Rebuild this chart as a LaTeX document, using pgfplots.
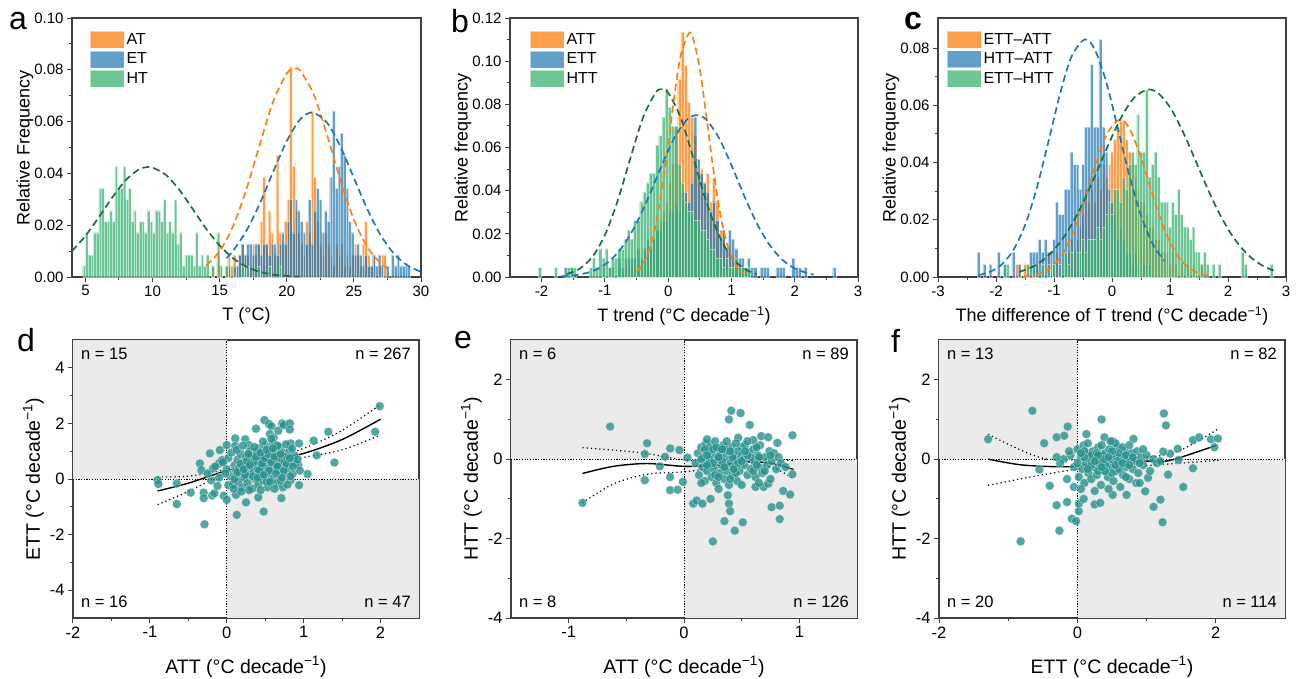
\documentclass[border=0pt]{standalone}
\usepackage{fontspec}
\setmainfont{Liberation Sans}
\usepackage{pgfplots}
\pgfplotsset{compat=1.18}
\definecolor{cOr}{RGB}{255,127,14}
\definecolor{cBl}{RGB}{31,119,180}
\definecolor{cGr}{RGB}{60,179,113}
\definecolor{cDG}{RGB}{28,110,58}
\definecolor{cTeal}{RGB}{40,145,140}
\definecolor{cQuad}{RGB}{235,235,235}
\newcommand{\lf}{\fontsize{16}{16}\selectfont}
\newcommand{\nf}{\fontsize{16.5}{16.5}\selectfont}
\pgfplotsset{
  base/.style={scale only axis, anchor=south west, tick align=outside, xtick pos=left, ytick pos=left,
    minor tick num=1, axis line style={draw=black!75, line width=1.1pt},
    tick style={draw=black!75, line width=1pt}, major tick length=5pt, minor tick length=3pt,
    tick label style={font=\fontsize{15}{15}\selectfont}, label style={font=\fontsize{18}{18}\selectfont},
    /pgf/number format/assume math mode=true},
  hist/.style={base, ymin=0, scaled y ticks=false, yticklabel style={/pgf/number format/fixed, /pgf/number format/fixed zerofill, /pgf/number format/precision=2},
    xlabel style={yshift=-4pt}, ylabel style={yshift=-6pt},
    legend style={draw=none, fill=none, font=\lf, anchor=north west,
      inner sep=0pt, row sep=2pt, nodes={inner sep=2pt, font=\lf}},
    legend cell align=left,
    legend image code/.code={\fill[##1] (0pt,-8.5pt) rectangle (34pt,8.5pt);}},
  hb/.style={ybar, bar shift=0pt, bar width=#1, draw=white, draw opacity=0.5, line width=0.3pt, fill opacity=0.75},
  gc/.style={#1, line width=1.7pt, dash pattern=on 7pt off 4pt, smooth, forget plot},
  sc/.style={base, width=346pt, height=278pt, tick label style={font=\fontsize{16.5}{16.5}\selectfont},
    label style={font=\fontsize{19.5}{19.5}\selectfont}, xlabel style={yshift=-11pt}, ylabel style={yshift=-1pt}},
  pts/.style={only marks, mark=*, mark size=4.5pt, mark options={fill=cTeal, fill opacity=0.8, draw=white, draw opacity=0.6, line width=0.4pt}},
  fitl/.style={black, line width=1.4pt, smooth},
  band/.style={black, line width=1.2pt, dash pattern=on 1.2pt off 3pt, smooth},
}
\newcommand{\nlab}[4]{%
  \node[anchor=north west, inner sep=0pt] at ([xshift=8pt,yshift=-8pt]rel axis cs:0,1) {\nf #1};
  \node[anchor=north east, inner sep=0pt] at ([xshift=-8pt,yshift=-8pt]rel axis cs:1,1) {\nf #2};
  \node[anchor=south west, inner sep=0pt] at ([xshift=8pt,yshift=10pt]rel axis cs:0,0) {\nf #3};
  \node[anchor=south east, inner sep=0pt] at ([xshift=-8pt,yshift=10pt]rel axis cs:1,0) {\nf #4};}
\begin{document}
\begin{tikzpicture}
\path[use as bounding box] (0pt,0pt) rectangle (1296pt,-678pt);
% ---------------- a
\begin{axis}[hist, at={(72pt,-277pt)}, width=349pt, height=259pt, xmin=4, xmax=30, ymax=0.1,
  xtick={5,10,15,20,25,30}, ytick={0,0.02,0.04,0.06,0.08,0.1},
  xlabel={T (°C)}, ylabel={Relative Frequency},
  legend style={at={(rel axis cs:0,1)}, xshift=18pt, yshift=-13pt}]
\addplot[hb=0.2, fill=cOr] coordinates {(14.5,.0043)(14.9,.0085)(15.1,.0043)(15.5,.0043)(15.7,.0085)(15.9,.0043)(16.1,.0085)(16.3,.0043)(16.5,.0085)(16.7,.0128)(16.9,.0085)(17.1,.0085)(17.3,.0043)(17.5,.0128)(17.7,.0085)(17.9,.0128)(18.1,.0214)(18.3,.0385)(18.5,.0128)(18.7,.0256)(18.9,.0171)(19.1,.0085)(19.3,.047)(19.5,.0171)(19.7,.0128)(19.9,.0214)(20.1,.0299)(20.3,.0812)(20.5,.0427)(20.7,.0256)(20.9,.0171)(21.1,.0128)(21.3,.0085)(21.5,.0214)(21.7,.0171)(21.9,.0641)(22.1,.0385)(22.3,.0214)(22.5,.0128)(22.7,.0085)(22.9,.0171)(23.1,.0128)(23.3,.0085)(23.5,.0043)(23.7,.0128)(23.9,.0085)(24.1,.0128)(24.3,.0043)(24.5,.0085)(24.7,.0043)(24.9,.0085)(25.1,.0128)(25.3,.0085)(25.5,.0043)(25.7,.0128)(25.9,.0214)(26.1,.0085)(26.3,.0043)(26.5,.0085)(26.9,.0043)(27.1,.0085)(27.3,.0085)};
\addlegendentry{\lf AT}
\addplot[hb=0.2, fill=cBl, fill opacity=0.7] coordinates {(15.7,.0043)(16.1,.0043)(16.3,.0043)(16.5,.0085)(16.7,.0128)(16.9,.0085)(17.1,.0128)(17.3,.0128)(17.5,.0085)(17.7,.0128)(17.9,.0128)(18.1,.0085)(18.3,.0128)(18.5,.0128)(18.7,.0085)(18.9,.0128)(19.1,.0128)(19.3,.0085)(19.5,.0128)(19.7,.0171)(19.9,.0128)(20.1,.0214)(20.3,.0299)(20.5,.0171)(20.7,.0299)(20.9,.0256)(21.1,.0214)(21.3,.0171)(21.5,.0128)(21.7,.0299)(21.9,.0128)(22.1,.0256)(22.3,.0342)(22.5,.0299)(22.7,.0171)(22.9,.0256)(23.1,.0214)(23.3,.0385)(23.5,.0641)(23.7,.0342)(23.9,.0427)(24.1,.0556)(24.3,.047)(24.5,.0342)(24.7,.0214)(24.9,.0171)(25.1,.0085)(25.3,.0128)(25.5,.0085)(25.7,.0043)(25.9,.0085)(26.1,.0043)(26.3,.0043)(26.5,.0085)(26.7,.0043)(26.9,.0085)(27.1,.0043)(27.5,.0043)(27.9,.0085)(28.1,.0043)(28.3,.0085)(28.5,.0043)(28.7,.0043)(28.9,.0043)(29.1,.0043)};
\addlegendentry{\lf ET}
\addplot[hb=0.2, fill=cGr] coordinates {(4.9,.0043)(5.1,.0171)(5.3,.0085)(5.5,.0085)(5.7,.0171)(5.9,.0171)(6.1,.0342)(6.3,.0342)(6.5,.0214)(6.7,.0214)(6.9,.0256)(7.1,.0214)(7.3,.0427)(7.5,.0342)(7.7,.0342)(7.9,.0427)(8.1,.0299)(8.3,.0342)(8.5,.0214)(8.7,.0256)(8.9,.0171)(9.1,.0214)(9.3,.0214)(9.5,.0171)(9.7,.0256)(9.9,.0214)(10.1,.0171)(10.3,.0256)(10.5,.0256)(10.7,.0214)(10.9,.0299)(11.1,.0171)(11.3,.0214)(11.5,.0171)(11.7,.0299)(11.9,.0128)(12.1,.0171)(12.3,.0043)(12.5,.0085)(12.7,.0085)(12.9,.0085)(13.1,.0043)(13.3,.0171)(13.5,.0043)(13.7,.0085)(13.9,.0043)(14.1,.0085)(14.5,.0043)(14.9,.0171)(15.1,.0043)(15.5,.0043)(16.1,.0043)(16.7,.0043)(17.1,.0043)(17.9,.0043)(18.7,.0043)(19.5,.0043)};
\addlegendentry{\lf HT}
\addplot[gc=cDG] coordinates {(4,.0100)(5,.0159)(6,.0231)(7,.0307)(8,.0374)(9,.0416)(9.7,.0425)(10,.0423)(11,.0394)(12,.0336)(13,.0262)(14,.0186)(15,.0122)(16,.00725)(17,.00396)(18,.00198)(19,.0009)(20,.00038)(21,.00014)};
\addplot[gc=cOr] coordinates {(14,.00443)(15,.00997)(16,.01967)(17,.03396)(18,.05133)(19,.06788)(20,.0786)(20.6,.0805)(21,.07965)(22,.07065)(23,.05485)(24,.03728)(25,.02217)(26,.01155)(27,.00526)(27.5,.0034)};
\addplot[gc=cBl] coordinates {(15.5,.0073)(16,.01013)(17,.01791)(18,.02848)(19,.04076)(20,.0525)(21,.06085)(21.9,.0635)(23,.05958)(24,.05033)(25,.03827)(26,.02618)(27,.01612)(28,.00893)(29,.00445)(30,.002)};
\end{axis}
% ---------------- b
\begin{axis}[hist, at={(510pt,-277pt)}, width=348pt, height=259pt, xmin=-2.5, xmax=3, ymax=0.12,
  xtick={-2,-1,0,1,2,3}, ytick={0,0.02,0.04,0.06,0.08,0.1,0.12},
  xlabel={T trend (°C decade\textsuperscript{−1})}, ylabel={Relative frequency},
  legend style={at={(rel axis cs:0,1)}, xshift=20pt, yshift=-13pt}]
\addplot[hb=0.05, fill=cOr] coordinates {(-0.925,.0044)(-0.775,.0044)(-0.675,.0044)(-0.625,.0044)(-0.575,.0044)(-0.525,.0087)(-0.475,.0044)(-0.425,.0087)(-0.375,.0131)(-0.325,.0087)(-0.275,.0131)(-0.225,.0175)(-0.175,.0218)(-0.125,.0262)(-0.075,.0306)(-0.025,.0349)(0.025,.0437)(0.075,.0524)(0.125,.0699)(0.175,.0917)(0.225,.1135)(0.275,.0983)(0.325,.0808)(0.375,.0742)(0.425,.0655)(0.475,.048)(0.525,.0502)(0.575,.0437)(0.625,.048)(0.675,.0349)(0.725,.0459)(0.775,.0349)(0.825,.0218)(0.875,.0218)(0.925,.0131)(0.975,.0131)(1.025,.0087)(1.075,.0044)(1.125,.0044)(1.175,.0044)(1.225,.0044)};
\addlegendentry{\lf ATT}
\addplot[hb=0.05, fill=cBl, fill opacity=0.7] coordinates {(-1.625,.0044)(-1.525,.0044)(-1.025,.0044)(-0.925,.0044)(-0.875,.0044)(-0.775,.0087)(-0.725,.0044)(-0.675,.0087)(-0.625,.0087)(-0.575,.0087)(-0.525,.0087)(-0.475,.0131)(-0.425,.0087)(-0.375,.0131)(-0.325,.0175)(-0.275,.0131)(-0.225,.0175)(-0.175,.0218)(-0.125,.0218)(-0.075,.0262)(-0.025,.0262)(0.025,.0306)(0.075,.0306)(0.125,.0349)(0.175,.0306)(0.225,.0393)(0.275,.0393)(0.325,.0349)(0.375,.0437)(0.425,.0742)(0.475,.0546)(0.525,.048)(0.575,.0437)(0.625,.0393)(0.675,.0306)(0.725,.0349)(0.775,.0262)(0.825,.0175)(0.875,.0218)(0.925,.0131)(0.975,.0218)(1.025,.0175)(1.075,.0131)(1.125,.0087)(1.175,.0087)(1.225,.0044)(1.275,.0087)(1.325,.0044)(1.375,.0044)(1.475,.0044)(1.525,.0044)(1.575,.0044)(1.725,.0044)(1.775,.0044)(1.825,.0044)(1.975,.0087)(2.025,.0044)(2.075,.0044)(2.175,.0044)(2.625,.0044)};
\addlegendentry{\lf ETT}
\addplot[hb=0.05, fill=cGr] coordinates {(-2.025,.0044)(-1.775,.0044)(-1.575,.0044)(-1.525,.0044)(-1.475,.0044)(-1.225,.0044)(-1.175,.0087)(-1.125,.0044)(-1.075,.0131)(-1.025,.0087)(-0.975,.0131)(-0.925,.0044)(-0.875,.0087)(-0.825,.0087)(-0.775,.0131)(-0.725,.0131)(-0.675,.0175)(-0.625,.0218)(-0.575,.0175)(-0.525,.0262)(-0.475,.0262)(-0.425,.0349)(-0.375,.0393)(-0.325,.0437)(-0.275,.048)(-0.225,.048)(-0.175,.0611)(-0.125,.0655)(-0.075,.0742)(-0.025,.0873)(0.025,.0786)(0.075,.0699)(0.125,.0699)(0.175,.0524)(0.225,.0437)(0.275,.0349)(0.325,.0306)(0.375,.0306)(0.425,.0262)(0.475,.0262)(0.525,.0218)(0.575,.0218)(0.625,.0175)(0.675,.0131)(0.725,.0131)(0.775,.0087)(0.825,.0087)(0.875,.0044)(0.925,.0087)(0.975,.0044)(1.025,.0044)(1.075,.0087)(1.125,.0044)(1.175,.0044)(1.225,.0044)(1.275,.0044)};
\addlegendentry{\lf HTT}
\addplot[gc=cDG] coordinates {(-1.6,.00136)(-1.4,.00382)(-1.2,.00929)(-1.0,.01945)(-0.8,.03516)(-0.6,.05479)(-0.4,.07366)(-0.2,.08541)(-0.1,.087)(0.0,.08541)(0.2,.07366)(0.4,.05479)(0.6,.03516)(0.8,.01945)(1.0,.00929)(1.2,.00382)(1.4,.00136)};
\addplot[gc=cOr] coordinates {(-0.5,.00246)(-0.4,.00585)(-0.3,.01246)(-0.2,.02373)(-0.1,.04045)(0.0,.06171)(0.1,.08423)(0.2,.10288)(0.33,.113)(0.4,.10997)(0.5,.09624)(0.6,.07537)(0.7,.05282)(0.8,.03312)(0.9,.01859)(1.0,.00933)(1.1,.00419)(1.2,.00169)};
\addplot[gc=cBl] coordinates {(-1.7,.00027)(-1.5,.00072)(-1.3,.00179)(-1.1,.00399)(-0.9,.00811)(-0.7,.01493)(-0.5,.02492)(-0.3,.03775)(-0.1,.05184)(0.1,.06458)(0.3,.07297)(0.45,.075)(0.6,.07297)(0.8,.06458)(1.0,.05184)(1.2,.03775)(1.4,.02492)(1.6,.01493)(1.8,.00811)(2.0,.00399)(2.2,.00179)(2.3,.00115)};
\end{axis}
% ---------------- c
\begin{axis}[hist, at={(938pt,-277pt)}, width=348pt, height=259pt, xmin=-3, xmax=3, ymax=0.0905,
  xtick={-3,-2,-1,0,1,2,3}, ytick={0,0.02,0.04,0.06,0.08},
  xlabel={The difference of T trend (°C decade\textsuperscript{−1})}, ylabel={Relative frequency},
  legend style={at={(rel axis cs:0,1)}, xshift=9pt, yshift=-13pt}]
\addplot[hb=0.05, fill=cOr] coordinates {(-1.65,.0044)(-1.60,.0044)(-1.50,.0044)(-1.45,.0044)(-1.30,.0044)(-1.10,.0087)(-1.00,.0044)(-0.95,.0087)(-0.90,.0044)(-0.80,.0087)(-0.75,.0087)(-0.70,.0131)(-0.65,.0087)(-0.60,.0131)(-0.55,.0175)(-0.50,.0218)(-0.45,.0306)(-0.40,.0262)(-0.35,.0306)(-0.30,.0262)(-0.25,.0349)(-0.20,.0306)(-0.15,.0393)(-0.10,.0349)(-0.05,.0393)(0.00,.0437)(0.05,.048)(0.10,.0524)(0.15,.0546)(0.20,.0546)(0.25,.048)(0.30,.0437)(0.35,.0393)(0.40,.0349)(0.45,.0306)(0.50,.0262)(0.55,.0262)(0.60,.0218)(0.65,.0175)(0.70,.0175)(0.75,.0131)(0.80,.0131)(0.85,.0087)(0.90,.0087)(0.95,.0087)(1.00,.0044)(1.05,.0087)(1.10,.0044)(1.20,.0044)(1.30,.0044)(1.40,.0044)(1.55,.0044)};
\addlegendentry{\lf ETT–ATT}
\addplot[hb=0.05, fill=cBl, fill opacity=0.7] coordinates {(-2.30,.0087)(-2.20,.0044)(-2.10,.0044)(-1.95,.0087)(-1.85,.0044)(-1.70,.0087)(-1.60,.0044)(-1.40,.0087)(-1.35,.0087)(-1.30,.0087)(-1.25,.0131)(-1.20,.0087)(-1.15,.0131)(-1.10,.0087)(-1.05,.0087)(-1.00,.0131)(-0.95,.0262)(-0.90,.0218)(-0.85,.0218)(-0.80,.0306)(-0.75,.0306)(-0.70,.0437)(-0.65,.0393)(-0.60,.0393)(-0.55,.0306)(-0.50,.0393)(-0.45,.0524)(-0.40,.0524)(-0.35,.0742)(-0.30,.0524)(-0.25,.0524)(-0.20,.083)(-0.15,.0524)(-0.10,.0437)(-0.05,.0306)(0.00,.0262)(0.05,.0218)(0.10,.0131)(0.15,.0175)(0.20,.0131)(0.25,.0087)(0.30,.0087)(0.35,.0044)(0.40,.0087)(0.45,.0044)(0.55,.0044)(0.65,.0044)};
\addlegendentry{\lf HTT–ATT}
\addplot[hb=0.05, fill=cGr] coordinates {(-1.85,.0044)(-1.80,.0044)(-1.45,.0044)(-1.35,.0044)(-1.20,.0044)(-1.10,.0044)(-1.00,.0044)(-0.90,.0044)(-0.80,.0087)(-0.75,.0044)(-0.70,.0087)(-0.60,.0087)(-0.55,.0087)(-0.50,.0131)(-0.45,.0087)(-0.40,.0131)(-0.35,.0131)(-0.30,.0131)(-0.25,.0175)(-0.20,.0131)(-0.15,.0175)(-0.10,.0218)(-0.05,.0262)(0.00,.0218)(0.05,.0306)(0.10,.0306)(0.15,.0262)(0.20,.0349)(0.25,.0306)(0.30,.0393)(0.35,.0437)(0.40,.0393)(0.45,.0568)(0.50,.0437)(0.55,.0437)(0.60,.0655)(0.65,.0349)(0.70,.0393)(0.75,.0437)(0.80,.0349)(0.85,.0262)(0.90,.0262)(0.95,.0262)(1.00,.0175)(1.05,.0262)(1.10,.0218)(1.15,.0306)(1.20,.0218)(1.25,.0175)(1.30,.0175)(1.35,.0131)(1.40,.0175)(1.45,.0087)(1.50,.0087)(1.55,.0044)(1.60,.0087)(1.65,.0044)(1.75,.0044)(1.85,.0044)(2.25,.0087)(2.30,.0044)(2.75,.0044)};
\addlegendentry{\lf ETT–HTT}
\addplot[gc=cBl] coordinates {(-2.3,.00068)(-2.1,.00183)(-1.9,.0044)(-1.7,.00945)(-1.5,.01808)(-1.3,.03086)(-1.1,.04694)(-0.9,.06364)(-0.7,.07693)(-0.47,.083)(-0.3,.07962)(-0.1,.06818)(0.1,.05205)(0.3,.03541)(0.5,.02149)(0.7,.01162)(0.9,.0056)};
\addplot[gc=cOr] coordinates {(-1.5,.00027)(-1.3,.00092)(-1.1,.00267)(-0.9,.00659)(-0.7,.01387)(-0.5,.02487)(-0.3,.038)(-0.1,.04948)(0.13,.055)(0.3,.05191)(0.5,.04183)(0.7,.02871)(0.9,.0168)(1.1,.00838)(1.3,.00356)(1.5,.00129)(1.7,.0004)};
\addplot[gc=cDG] coordinates {(-1.6,.00177)(-1.4,.00329)(-1.2,.00576)(-1.0,.00952)(-0.8,.01485)(-0.6,.02184)(-0.4,.03033)(-0.2,.03973)(0.0,.0491)(0.2,.05727)(0.4,.06303)(0.63,.0655)(0.8,.06414)(1.0,.0593)(1.2,.05174)(1.4,.0426)(1.6,.03309)(1.8,.02425)(2.0,.01677)(2.2,.01095)(2.4,.00674)(2.6,.00392)(2.8,.00215)};
\end{axis}
% ---------------- d
\begin{axis}[sc, at={(73pt,-618pt)}, xmin=-2, xmax=2.5, ymin=-5, ymax=5,
  xtick={-2,-1,0,1,2}, ytick={-4,-2,0,2,4},
  xlabel={ATT (°C decade\textsuperscript{−1})}, ylabel={ETT (°C decade\textsuperscript{−1})}]
\fill[cQuad] (axis cs:-2,0) rectangle (axis cs:0,5);
\fill[cQuad] (axis cs:0,-5) rectangle (axis cs:2.5,0);
\draw[black, line width=0.7pt, dash pattern=on 1.2pt off 1.5pt] (axis cs:0,-5) -- (axis cs:0,5);
\draw[black, line width=0.7pt, dash pattern=on 1.2pt off 1.5pt] (axis cs:-2,0) -- (axis cs:2.5,0);
\addplot[pts] coordinates {(-0.9,-0.04)(-0.89,-0.18)(-0.65,-0.9)(-0.65,-0.16)(-0.47,-0.49)(-0.35,0.56)(-0.33,0.32)(-0.30,-0.49)(-0.30,-0.69)(-0.29,-1.63)(-0.22,0.92)(-0.19,-0.59)(-0.18,0.38)(-0.16,-0.51)(-0.10,0.56)(-0.09,1.04)(-0.06,0.68)(-0.04,-0.6)(0.0,1.22)(0.0,-0.75)(0.02,-0.22)(0.11,1.46)(0.11,1.19)(0.12,-0.57)(0.13,-1.29)(0.24,1.43)(0.25,-0.84)(0.29,1.22)(0.38,1.81)(0.41,-0.66)(0.49,2.12)(0.48,-1.17)(0.55,1.98)(0.58,1.9)(0.56,1.62)(0.61,1.49)(0.67,1.74)(0.72,2.0)(0.74,1.94)(0.82,2.0)(0.82,1.78)(0.83,1.28)(0.71,-0.69)(0.83,-0.04)(0.94,1.28)(0.93,0.5)(0.94,-0.22)(1.05,0.18)(1.13,1.38)(1.17,0.85)(1.32,1.7)(1.40,0.59)(1.93,1.7)(1.99,2.62)
(0.05,0.1)(0.08,-0.2)(0.1,0.5)(0.12,0.3)(0.14,0.7)(0.15,-0.1)(0.17,0.2)(0.18,0.9)(0.2,0.4)(0.2,-0.3)(0.22,0.6)(0.23,0.05)(0.25,0.8)(0.26,0.3)(0.27,-0.15)(0.28,0.55)(0.3,1.0)(0.3,0.15)(0.32,0.45)(0.33,-0.35)(0.34,0.7)(0.35,0.25)(0.36,0.95)(0.37,0.0)(0.38,0.5)(0.4,0.35)(0.4,0.75)(0.41,-0.2)(0.42,1.1)(0.43,0.6)(0.44,0.2)(0.45,0.45)(0.46,0.85)(0.47,-0.05)(0.48,0.65)(0.49,0.3)(0.5,1.2)(0.5,0.55)(0.51,0.1)(0.52,0.8)(0.53,-0.3)(0.54,0.4)(0.55,1.0)(0.56,0.65)(0.57,0.2)(0.58,0.9)(0.59,0.45)(0.6,1.3)(0.6,0.0)(0.61,0.7)(0.62,0.35)(0.63,1.05)(0.64,0.55)(0.65,-0.15)(0.66,0.85)(0.67,0.3)(0.68,0.6)(0.69,1.15)(0.7,0.15)(0.71,0.75)(0.72,0.45)(0.73,-0.3)(0.74,0.95)(0.75,0.6)(0.76,0.25)(0.78,0.8)(0.8,0.4)(0.82,1.05)(0.84,0.6)(0.86,0.2)(0.88,0.85)(0.9,0.55)(0.0,0.35)(0.02,0.75)(-0.02,0.2)(-0.05,0.6)(0.06,0.95)(0.09,-0.35)(0.13,1.05)(0.16,0.4)(0.19,-0.45)(0.21,1.2)(0.24,0.15)(0.29,-0.4)(0.31,0.85)(0.39,1.0)(0.44,-0.4)(0.47,1.35)(0.52,-0.1)(0.58,1.45)(0.62,-0.35)(0.66,1.2)(0.7,-0.05)(0.77,1.25)(0.79,-0.2)(0.83,0.1)(0.85,1.1)(0.92,0.7)(0.95,0.3)(-0.1,0.05)(-0.15,0.45)(-0.2,-0.05)(-0.25,0.2)(-0.12,-0.25)(0.35,0.6)(0.45,0.7)(0.55,0.3)(0.25,0.5)(0.65,0.45)
(0.1,0.0)(0.14,0.25)(0.18,0.55)(0.22,0.35)(0.26,0.65)(0.3,0.5)(0.34,0.1)(0.38,0.8)(0.42,0.3)(0.46,0.55)(0.5,0.75)(0.54,0.9)(0.58,0.6)(0.62,0.8)(0.66,0.45)(0.7,0.9)(0.74,0.3)(0.78,0.55)(0.82,0.75)(0.86,0.45)(0.4,0.05)(0.48,0.15)(0.56,-0.1)(0.64,0.2)(0.72,0.05)(0.28,0.9)(0.36,1.15)(0.44,0.95)(0.52,1.05)(0.6,1.1)};
\addplot[fitl] coordinates {(-0.9,-0.43)(-0.5,-0.15)(0,0.3)(0.5,0.62)(1.0,0.92)(1.5,1.42)(2.0,2.15)};
\addplot[band] coordinates {(-0.9,0.08)(-0.5,0.1)(0,0.35)(0.5,0.7)(1.0,1.1)(1.5,1.75)(2.0,2.68)};
\addplot[band] coordinates {(-0.9,-0.92)(-0.5,-0.45)(0,0.22)(0.5,0.55)(1.0,0.78)(1.5,1.05)(2.0,1.58)};
\nlab{n = 15}{n = 267}{n = 16}{n = 47}
\end{axis}
% ---------------- e
\begin{axis}[sc, at={(511pt,-618pt)}, xmin=-1.5, xmax=1.5, ymin=-4, ymax=3,
  xtick={-1,0,1}, ytick={-4,-2,0,2},
  xlabel={ATT (°C decade\textsuperscript{−1})}, ylabel={HTT (°C decade\textsuperscript{−1})}]
\fill[cQuad] (axis cs:-1.5,0) rectangle (axis cs:0,3);
\fill[cQuad] (axis cs:0,-4) rectangle (axis cs:1.5,0);
\draw[black, line width=0.7pt, dash pattern=on 1.2pt off 1.5pt] (axis cs:0,-4) -- (axis cs:0,3);
\draw[black, line width=0.7pt, dash pattern=on 1.2pt off 1.5pt] (axis cs:-1.5,0) -- (axis cs:1.5,0);
\addplot[pts] coordinates {(-0.88,-1.1)(-0.64,0.82)(-0.34,-0.53)(-0.32,0.4)(-0.34,0.13)(-0.21,-0.18)(-0.165,0.06)(-0.12,0.27)(-0.12,-0.45)(-0.12,-0.78)(-0.055,-0.77)(-0.04,0.23)(-0.01,-0.57)(0.03,0.04)(0.08,-1.12)(0.11,-1.04)(0.16,-1.12)(0.23,-1.0)(0.25,-2.07)(0.35,-1.56)(0.38,-0.91)(0.39,-1.12)(0.40,-1.31)(0.44,-1.8)(0.51,-1.59)(0.39,1.0)(0.41,1.22)(0.49,1.16)(0.57,0.86)(0.67,0.58)(0.73,0.55)(0.76,-1.21)(0.81,0.41)(0.83,-1.17)(0.83,-1.51)(0.86,-0.8)(0.92,-0.89)(0.94,0.6)(0.94,-0.38)(0.62,-0.7)(0.69,-0.7)(0.73,-0.62)(0.47,0.54)(0.5,0.31)(0.6,0.48)
(0.1,-0.1)(0.12,0.15)(0.13,-0.4)(0.15,0.3)(0.16,-0.2)(0.17,0.05)(0.18,-0.55)(0.19,0.4)(0.2,-0.3)(0.21,0.2)(0.22,-0.1)(0.23,0.35)(0.24,-0.45)(0.25,0.1)(0.26,-0.25)(0.27,0.45)(0.28,-0.6)(0.29,0.0)(0.3,0.25)(0.31,-0.35)(0.32,0.15)(0.33,-0.15)(0.34,0.35)(0.35,-0.5)(0.36,0.05)(0.37,-0.3)(0.38,0.2)(0.39,-0.65)(0.4,-0.1)(0.41,0.3)(0.42,-0.4)(0.43,0.1)(0.44,-0.2)(0.45,0.0)(0.46,-0.55)(0.47,0.2)(0.48,-0.3)(0.5,0.1)(0.52,-0.15)(0.53,0.35)(0.55,-0.4)(0.56,0.15)(0.58,-0.25)(0.6,0.25)(0.61,-0.05)(0.62,-0.45)(0.64,0.1)(0.65,-0.2)(0.66,0.35)(0.68,-0.35)(0.7,0.05)(0.72,-0.15)(0.74,0.2)(0.75,-0.5)(0.76,-0.05)(0.78,0.15)(0.8,-0.25)(0.82,0.05)(0.84,-0.1)(0.88,-0.2)(0.2,0.5)(0.3,-0.75)(0.25,0.25)(0.35,0.3)(0.45,0.4)(0.55,0.45)(0.65,-0.6)(0.5,-0.65)(0.15,-0.6)(0.22,0.0)(0.33,-0.05)(0.42,0.05)(0.52,0.0)(0.58,0.05)(0.28,0.3)(0.37,0.45)(0.18,0.25)(0.27,-0.4)(0.47,-0.1)(0.63,0.3)
(0.15,0.0)(0.2,0.1)(0.25,-0.1)(0.3,0.05)(0.35,-0.2)(0.4,0.2)(0.45,-0.35)(0.5,-0.05)(0.55,0.1)(0.6,-0.3)(0.65,0.05)(0.7,-0.3)(0.75,0.1)(0.3,-0.45)(0.4,-0.5)(0.2,-0.15)(0.33,0.25)(0.43,-0.25)(0.53,0.2)(0.63,-0.15)};
\addplot[fitl] coordinates {(-0.88,-0.36)(-0.61,-0.18)(-0.32,-0.11)(0,-0.18)(0.3,-0.15)(0.55,-0.07)(0.75,-0.1)(0.95,-0.26)};
\addplot[band] coordinates {(-0.88,0.29)(-0.5,0.2)(-0.3,0.13)(0,-0.02)(0.3,-0.05)(0.6,0.03)(0.8,0.0)(0.95,-0.04)};
\addplot[band] coordinates {(-0.88,-1.1)(-0.61,-0.62)(-0.32,-0.38)(0,-0.32)(0.34,-0.19)(0.63,-0.15)(0.8,-0.25)(0.95,-0.49)};
\nlab{n = 6}{n = 89}{n = 8}{n = 126}
\end{axis}
% ---------------- f
\begin{axis}[sc, at={(939pt,-618pt)}, xmin=-2, xmax=3, ymin=-4, ymax=3,
  xtick={-2,0,2}, ytick={-4,-2,0,2},
  xlabel={ETT (°C decade\textsuperscript{−1})}, ylabel={HTT (°C decade\textsuperscript{−1})}]
\fill[cQuad] (axis cs:-2,0) rectangle (axis cs:0,3);
\fill[cQuad] (axis cs:0,-4) rectangle (axis cs:3,0);
\draw[black, line width=0.7pt, dash pattern=on 1.2pt off 1.5pt] (axis cs:0,-4) -- (axis cs:0,3);
\draw[black, line width=0.7pt, dash pattern=on 1.2pt off 1.5pt] (axis cs:-2,0) -- (axis cs:3,0);
\addplot[pts] coordinates {(-1.29,0.5)(-0.82,-2.07)(-0.65,1.22)(-0.48,0.4)(-0.55,-0.26)(-0.4,-0.67)(-0.3,0.55)(-0.3,-1.16)(-0.26,-1.8)(-0.19,0.59)(-0.15,-1.08)(-0.14,0.82)(-0.08,-1.5)(-0.02,-1.56)(-0.05,-0.7)(0.02,-1.31)(0.02,-1.12)(0.09,-1.0)(0.13,0.63)(0.25,-1.14)(0.33,-1.1)(0.35,1.0)(0.39,0.55)(0.51,0.45)(0.51,-0.9)(0.71,-0.9)(0.81,0.51)(0.98,-0.81)(1.02,-0.47)(1.1,-1.2)(1.2,-1.02)(1.23,-1.59)(1.25,1.15)(1.28,0.85)(1.31,-0.39)(1.45,0.26)(1.53,-0.7)(1.67,-0.23)(1.67,0.48)(1.76,0.55)(1.93,0.5)(1.98,0.3)(2.03,0.52)(1.46,-0.02)(1.34,0.14)(1.24,0.19)
(-0.1,0.1)(-0.05,-0.2)(0.0,0.25)(0.02,-0.45)(0.05,0.05)(0.07,-0.25)(0.09,0.35)(0.1,-0.6)(0.12,-0.1)(0.14,0.15)(0.16,-0.35)(0.18,0.0)(0.2,-0.5)(0.22,0.2)(0.24,-0.2)(0.26,0.05)(0.28,-0.4)(0.3,0.3)(0.32,-0.1)(0.34,-0.65)(0.36,0.1)(0.38,-0.3)(0.4,0.15)(0.42,-0.05)(0.44,-0.45)(0.46,0.25)(0.48,-0.2)(0.5,0.0)(0.52,-0.55)(0.54,0.1)(0.56,-0.3)(0.58,0.3)(0.6,-0.1)(0.62,-0.7)(0.64,0.05)(0.66,-0.4)(0.68,0.2)(0.7,-0.2)(0.72,0.0)(0.75,-0.5)(0.78,0.15)(0.8,-0.25)(0.83,-0.05)(0.86,0.2)(0.88,-0.35)(0.92,0.05)(0.95,-0.15)(1.0,0.1)(1.05,-0.3)(1.1,0.0)(1.15,-0.1)(-0.2,0.0)(-0.25,-0.1)(-0.3,0.05)(-0.15,-0.5)(-0.12,0.2)(0.15,0.4)(0.25,-0.8)(0.35,0.35)(0.45,-0.75)(0.55,0.4)(0.65,0.3)(0.75,0.35)(0.85,-0.6)(0.3,-0.3)(0.5,-0.35)(0.4,-0.15)(0.6,0.15)(0.2,0.1)(0.1,0.2)(0.7,-0.45)(0.9,-0.6)(0.05,-0.75)(0.48,0.45)(0.28,0.15)(0.38,0.0)(0.58,-0.05)
(0.0,-0.1)(0.1,0.05)(0.2,-0.15)(0.3,0.1)(0.4,-0.3)(0.5,0.2)(0.6,-0.25)(0.7,0.1)(0.8,0.05)(0.9,-0.1)(0.25,-0.05)(0.35,-0.2)(0.45,0.05)(0.55,-0.15)(0.65,-0.1)(0.15,-0.25)(0.05,0.15)(0.75,-0.15)(1.2,-0.05)(0.95,0.25)};
\addplot[fitl] coordinates {(-1.29,0.0)(-0.78,-0.15)(-0.1,-0.19)(0.38,-0.08)(1.0,-0.05)(1.34,-0.03)(2.01,0.35)};
\addplot[band] coordinates {(-1.29,0.63)(-0.49,0.02)(0.38,0.02)(1.34,0.13)(2.04,0.77)};
\addplot[band] coordinates {(-1.29,-0.66)(-0.1,-0.28)(1.1,-0.15)(2.04,-0.03)};
\nlab{n = 13}{n = 82}{n = 20}{n = 114}
\end{axis}
% panel letters
\node[anchor=base west, inner sep=0pt, font=\fontsize{32}{32}\selectfont] at (9pt,-29.5pt) {a};
\node[anchor=base west, inner sep=0pt, font=\fontsize{32}{32}\selectfont] at (451pt,-32pt) {b};
\node[anchor=base west, inner sep=0pt, font=\fontsize{32}{32}\bfseries\selectfont] at (904pt,-29.5pt) {c};
\node[anchor=base west, inner sep=0pt, font=\fontsize{32}{32}\selectfont] at (17pt,-351pt) {d};
\node[anchor=base west, inner sep=0pt, font=\fontsize{32}{32}\selectfont] at (454pt,-348pt) {e};
\node[anchor=base west, inner sep=0pt, font=\fontsize{32}{32}\selectfont] at (891pt,-352pt) {f};
\end{tikzpicture}
\end{document}
